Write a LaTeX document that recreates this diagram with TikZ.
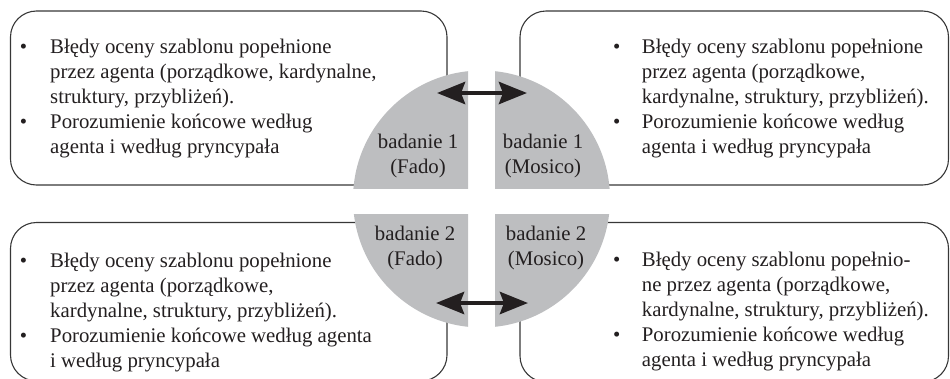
\documentclass[tikz,border=0pt]{standalone}
\usepackage{fontspec}
\setmainfont{Liberation Serif}
\usetikzlibrary{arrows.meta}
\definecolor{qgray}{RGB}{189,190,192}
\definecolor{ink}{RGB}{35,31,32}
\definecolor{edgec}{RGB}{55,55,55}
\newcommand{\bul}[1]{\makebox[#1][l]{\textbullet}}
\tikzset{
  boxstyle/.style={draw=edgec, line width=1.1pt, rounded corners=26pt},
  txt/.style={anchor=base west, inner sep=0pt, text=ink, font=\fontsize{20.8}{25}\selectfont},
  lbl/.style={anchor=base, inner sep=0pt, text=ink, font=\fontsize{20.8}{25}\selectfont},
  dblarrow/.style={line width=4.5pt, draw=ink,
    {Stealth[length=28pt,width=22pt,inset=4pt]}-{Stealth[length=28pt,width=22pt,inset=4pt]}},
  qfill/.style={fill=qgray}
}
\begin{document}
\begin{tikzpicture}[x=1pt,y=-1pt]
\useasboundingbox (0,0) rectangle (950,378);
\clip (0,0) rectangle (950,378);
% boxes
\draw[boxstyle] (10.5,11) rectangle (447,185);
\draw[boxstyle] (520,11) rectangle (948.5,185);
\draw[boxstyle] (10.5,222.5) rectangle (447,381);
\draw[boxstyle] (520,222.5) rectangle (948.5,382);
% gray quarters
\begin{scope}\clip (300,50) rectangle (468,188);\fill[qfill] (481.5,199) circle (128.5);\end{scope}
\begin{scope}\clip (495,50) rectangle (660,188);\fill[qfill] (481.5,199) circle (128.5);\end{scope}
\begin{scope}\clip (300,214) rectangle (468,350);\fill[qfill] (481.5,199) circle (128.5);\end{scope}
\begin{scope}\clip (495,214) rectangle (660,350);\fill[qfill] (481.5,199) circle (128.5);\end{scope}
% texts
\node[txt] (tl) at (19.7,53) {\begin{tabular}[t]{@{}l@{}l@{}}
\bul{30.3pt} & Błędy oceny szablonu popełnione\\
 & przez agenta (porządkowe, kardynalne,\\
 & struktury, przybliżeń).\\
\bul{30.3pt} & Porozumienie końcowe według\\
 & agenta i według pryncypała
\end{tabular}};
\node[txt] (tr) at (613,53) {\begin{tabular}[t]{@{}l@{}l@{}}
\bul{28.7pt} & Błędy oceny szablonu popełnione\\
 & przez agenta (porządkowe,\\
 & kardynalne, struktury, przybliżeń).\\
\bul{28.7pt} & Porozumienie końcowe według\\
 & agenta i według pryncypała
\end{tabular}};
\node[txt] (bl) at (19.7,267) {\begin{tabular}[t]{@{}l@{}l@{}}
\bul{30.3pt} & Błędy oceny szablonu popełnione\\
 & przez agenta (porządkowe,\\
 & kardynalne, struktury, przybliżeń).\\
\bul{30.3pt} & Porozumienie końcowe według agenta\\
 & i według pryncypała
\end{tabular}};
\node[txt] (br) at (613,266) {\begin{tabular}[t]{@{}l@{}l@{}}
\bul{28.7pt} & Błędy oceny szablonu popełnio-\\
 & ne przez agenta (porządkowe,\\
 & kardynalne, struktury, przybliżeń).\\
\bul{28.7pt} & Porozumienie końcowe według\\
 & agenta i według pryncypała
\end{tabular}};
% labels
\node[lbl] (q1) at (418,148) {\begin{tabular}[t]{@{}c@{}}badanie 1\\(Fado)\end{tabular}};
\node[lbl] (q2) at (543,148) {\begin{tabular}[t]{@{}c@{}}badanie 1\\(Mosico)\end{tabular}};
\node[lbl] (q3) at (415,240) {\begin{tabular}[t]{@{}c@{}}badanie 2\\(Fado)\end{tabular}};
\node[lbl] (q4) at (546,240) {\begin{tabular}[t]{@{}c@{}}badanie 2\\(Mosico)\end{tabular}};
% arrows
\coordinate (a1l) at (437,93);
\coordinate (a1r) at (527,93);
\coordinate (a2l) at (436,303);
\coordinate (a2r) at (528,303);
\draw[dblarrow] (a1l) -- (a1r);
\draw[dblarrow] (a2l) -- (a2r);
\end{tikzpicture}
\end{document}
